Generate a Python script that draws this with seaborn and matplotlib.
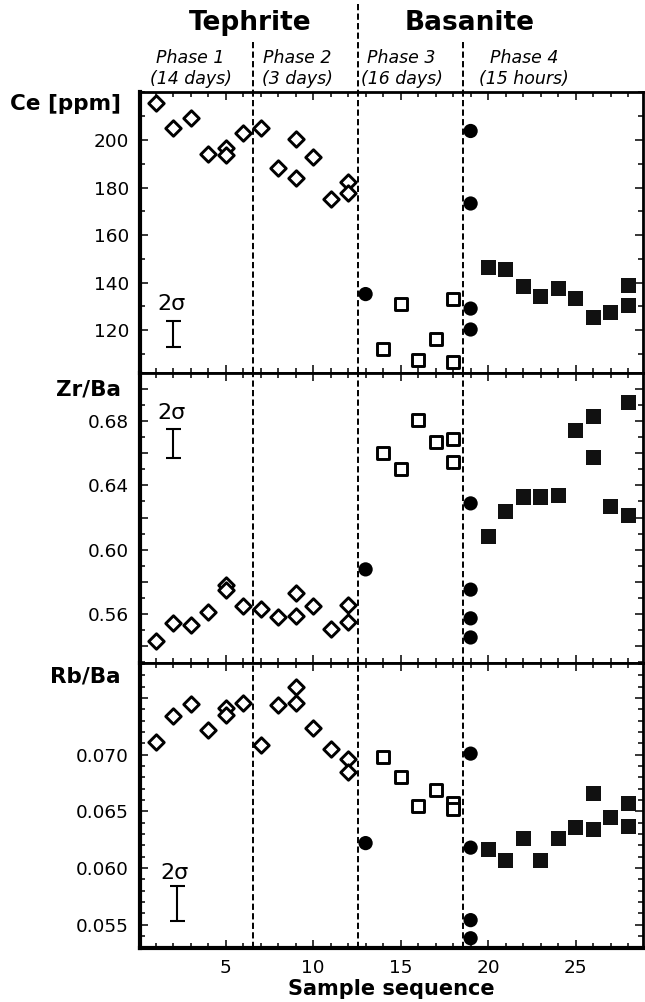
import matplotlib
matplotlib.use("Agg")
import matplotlib.pyplot as plt
import seaborn as sns
from matplotlib.ticker import MultipleLocator, FixedLocator, FuncFormatter

sns.set_style("ticks")
plt.rcParams['font.family'] = ['DejaVu Sans']
plt.rcParams.update({
    "text.color": "black",
    "axes.labelcolor": "black",
    "axes.edgecolor": "black",
    "xtick.color": "black",
    "ytick.color": "black",
})

# ---------------- data ----------------
sample_tephrite = [1, 2, 3, 4, 5, 5, 6, 7, 8, 9, 9, 10, 11, 12, 12]
sample_phase3 = [14, 15, 16, 17, 18, 18]
sample_circles = [13, 19, 19, 19, 19]
sample_phase4_ce = [20, 21, 22, 23, 24, 25, 26, 27, 28, 28]
sample_phase4 = [20, 21, 22, 23, 24, 25, 26, 26, 27, 28, 28]

ce_tephrite = [215.5, 204.9, 209.1, 194.1, 196.5, 193.7, 203.1, 205.2, 188.1,
               200.3, 184.1, 193.0, 175.0, 182.5, 177.8]
ce_phase3 = [112.3, 130.9, 107.4, 116.5, 133.3, 106.7]
ce_circles = [135.2, 203.8, 173.3, 129.1, 120.3]
ce_phase4 = [146.2, 145.5, 138.2, 134.3, 137.5, 133.3, 125.3, 127.4, 138.7, 130.5]

zrba_tephrite = [0.543, 0.5543, 0.5533, 0.561, 0.5782, 0.5747, 0.5648, 0.5631,
                 0.5579, 0.5732, 0.5589, 0.5652, 0.5506, 0.5657, 0.5547]
zrba_phase3 = [0.6603, 0.6502, 0.6806, 0.667, 0.6686, 0.6544]
zrba_circles = [0.5877, 0.6288, 0.5751, 0.5572, 0.5453]
zrba_phase4 = [0.6082, 0.6236, 0.6328, 0.6328, 0.6338, 0.6743, 0.6831, 0.6575,
               0.6271, 0.6915, 0.6214]

rbba_tephrite = [0.0711, 0.0734, 0.0745, 0.0722, 0.0741, 0.0735, 0.0746, 0.0709,
                 0.0744, 0.0760, 0.0746, 0.0724, 0.0705, 0.0696, 0.0685]
rbba_phase3 = [0.0698, 0.0680, 0.0655, 0.0669, 0.0657, 0.0652]
rbba_circles = [0.0622, 0.0701, 0.0618, 0.0554, 0.0538]
rbba_phase4 = [0.0616, 0.0607, 0.0626, 0.0607, 0.0626, 0.0636, 0.0666, 0.0634,
               0.0645, 0.0657, 0.0637]

panel_labels = ["Ce [ppm]", "Zr/Ba", "Rb/Ba"]
phase_bounds = [6.55, 12.55, 18.55]
rock_names = ["Tephrite", "Basanite"]
phase_names = ["Phase 1", "Phase 2", "Phase 3", "Phase 4"]
phase_durations = ["(14 days)", "(3 days)", "(16 days)", "(15 hours)"]

# 2-sigma error bars: (x, centre, half-width)
sigma_ce = (2.0, 118.5, 5.5)
sigma_zrba = (2.0, 0.6662, 0.0092)
sigma_rbba = (2.2, 0.05684, 0.00155)

# ---------------- layout ----------------
W, H = 645, 1002
fig = plt.figure(figsize=(W / 100, H / 100), dpi=100)
left_px, right_px = 140, 643
tops = [92, 373, 663]
bots = [373, 663, 948]
XLIM = (0.11, 28.85)

axes = []
for t, b in zip(tops, bots):
    ax = fig.add_axes([left_px / W, 1 - b / H, (right_px - left_px) / W, (b - t) / H])
    axes.append(ax)

hdr = fig.add_axes([left_px / W, 1 - 92 / H, (right_px - left_px) / W, 92 / H])
hdr.set_xlim(*XLIM)
hdr.set_ylim(92, 0)
hdr.axis("off")

dash = (0, (3.2, 1.7))


def draw_panel(ax, teph, ph3, circ, ph4, x_ph4, sigma):
    sns.scatterplot(x=sample_tephrite, y=teph, marker="D", s=62, color="black",
                    facecolor="white", edgecolor="black", linewidth=2.1,
                    ax=ax, legend=False, zorder=4)
    sns.scatterplot(x=sample_phase3, y=ph3, marker="s", s=68, color="black",
                    facecolor="white", edgecolor="black", linewidth=2.1,
                    ax=ax, legend=False, zorder=4)
    sns.scatterplot(x=sample_circles, y=circ, marker="o", s=105, color="black",
                    edgecolor="none", linewidth=0, ax=ax, legend=False, zorder=5)
    sns.scatterplot(x=x_ph4, y=ph4, marker="s", s=118, color="#111111",
                    edgecolor="none", linewidth=0, ax=ax, legend=False, zorder=4)
    for xb in phase_bounds:
        ax.axvline(xb, color="black", lw=1.4, linestyle=dash, zorder=2)
    sx, sc, se = sigma
    ax.errorbar([sx], [sc], yerr=[se], fmt="none", ecolor="black",
                elinewidth=1.5, capsize=5.4, capthick=1.5, zorder=3)
    return sx, sc + se


panels = [
    (ce_tephrite, ce_phase3, ce_circles, ce_phase4, sample_phase4_ce, sigma_ce),
    (zrba_tephrite, zrba_phase3, zrba_circles, zrba_phase4, sample_phase4, sigma_zrba),
    (rbba_tephrite, rbba_phase3, rbba_circles, rbba_phase4, sample_phase4, sigma_rbba),
]
ylims = [(102, 220.2), (0.5294, 0.7100), (0.05294, 0.0781)]
sigma_text_y = [131.0, 0.685, 0.0596]
label_dy = [-12, -16, -13]

for i, (ax, p) in enumerate(zip(axes, panels)):
    sx, _ = draw_panel(ax, *p)
    ax.set_xlim(*XLIM)
    ax.set_ylim(*ylims[i])
    ax.text(sx - 0.1, sigma_text_y[i], "2\u03c3", ha="center", va="center",
            fontsize=16, zorder=6)
    ax.set_xlabel("")
    ax.set_ylabel("")
    ax.annotate(panel_labels[i], xy=(0, 1), xycoords="axes fraction",
                xytext=(-19 * 0.72, label_dy[i] * 0.72), textcoords="offset points",
                ha="right", va="center", fontweight="bold", fontsize=15.5)
    ax.xaxis.set_major_locator(MultipleLocator(5))
    ax.xaxis.set_minor_locator(MultipleLocator(1))
    ax.tick_params(which="both", direction="in", top=True, right=True,
                   labelsize=13.3, width=1.1, pad=8, colors="black")
    ax.tick_params(which="major", length=6)
    ax.tick_params(which="minor", length=3.5)
    if i < 2:
        ax.tick_params(labelbottom=False)
    for s in ax.spines.values():
        s.set_linewidth(2.0)
        s.set_color("black")
    ax.spines["left"].set_linewidth(3.0)
    if i == 2:
        ax.spines["bottom"].set_linewidth(3.0)

# y ticks
axes[0].yaxis.set_major_locator(FixedLocator([120, 140, 160, 180, 200]))
axes[0].yaxis.set_minor_locator(MultipleLocator(10))
axes[0].yaxis.set_major_formatter(FuncFormatter(lambda v, p: f"{v:.0f}"))

axes[1].yaxis.set_major_locator(FixedLocator([0.54, 0.56, 0.58, 0.60, 0.62, 0.64, 0.66, 0.68, 0.70]))
axes[1].yaxis.set_minor_locator(MultipleLocator(0.01))
axes[1].yaxis.set_major_formatter(FuncFormatter(
    lambda v, p: f"{v:.2f}" if round(v * 100) in (56, 60, 64, 68) else ""))

axes[2].yaxis.set_major_locator(FixedLocator([0.055, 0.060, 0.065, 0.070, 0.075]))
axes[2].yaxis.set_minor_locator(MultipleLocator(0.001))
axes[2].yaxis.set_major_formatter(FuncFormatter(
    lambda v, p: f"{v:.3f}" if v < 0.0725 else ""))

# header
hdr.text(6.4, 23, rock_names[0], ha="center", va="center", fontweight="bold", fontsize=19)
hdr.text(18.97, 23, rock_names[1], ha="center", va="center", fontweight="bold", fontsize=19)
phase_x = [3.0, 9.1, 15.05, 22.05]
for px, nm, du in zip(phase_x, phase_names, phase_durations):
    hdr.text(px, 58, nm, ha="center", va="center", fontstyle="italic", fontsize=12.5)
    hdr.text(px, 79, du, ha="center", va="center", fontstyle="italic", fontsize=12.5)
hdr.vlines([phase_bounds[0], phase_bounds[2]], 42, 92, color="black", lw=1.4, linestyle=dash)
hdr.vlines([phase_bounds[1]], 4, 92, color="black", lw=1.4, linestyle=dash)

fig.text(391 / W, 1 - 989 / H, "Sample sequence", ha="center", va="center",
         fontweight="bold", fontsize=15)

fig.savefig("out.png", dpi=100)
